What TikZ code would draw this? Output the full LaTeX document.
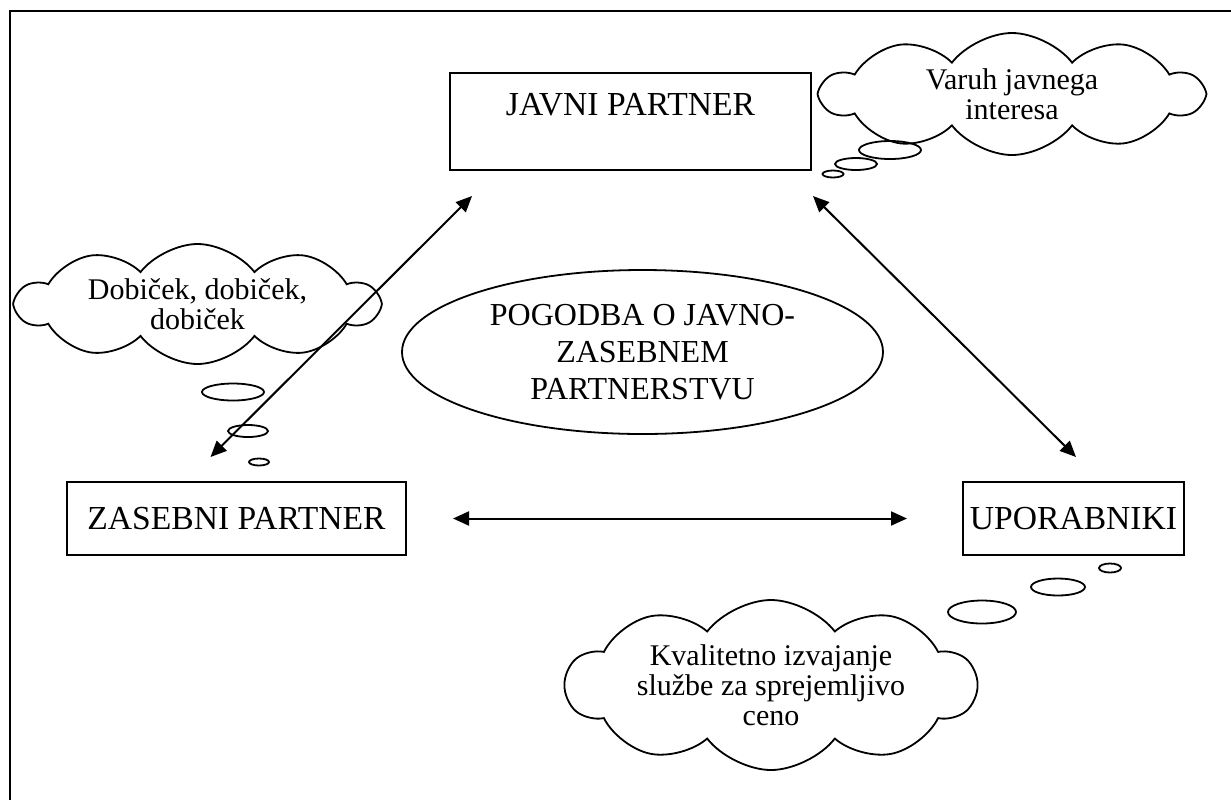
\documentclass[tikz,border=0pt]{standalone}
\usepackage{fontspec}
\setmainfont{Liberation Serif}
\usetikzlibrary{arrows.meta,positioning,shapes.geometric,shapes.symbols}

\begin{document}
\begin{tikzpicture}[x=0.5pt,y=-0.5pt,line width=0.9pt,
   box/.style={draw,rectangle,line width=1pt,inner sep=0pt,font=\fontsize{16.8}{19}\selectfont},
   oval/.style={draw,ellipse,inner sep=0pt},
   thought/.style={draw,cloud,cloud puffs=10,cloud puff arc=105,cloud ignores aspect,inner sep=0pt,
                   align=center,font=\fontsize{15}{15}\selectfont},
   link/.style={line width=1pt,{Triangle[length=8pt,width=7pt]}-{Triangle[length=8pt,width=7pt]}}]
  \clip (0,0) rectangle (1231,799);
  \draw[line width=1.4pt] (10,11) rectangle (1260,830);

  % the three partners
  \node[box,minimum width=180.5pt,text height=21pt,text depth=27.5pt,anchor=base]
       (javni) at (630.5,115) {JAVNI PARTNER};
  \node[box,minimum width=169.5pt,minimum height=36.5pt] (zasebni) at (236.5,518.5) {ZASEBNI PARTNER};
  \node[box,minimum width=110.5pt,minimum height=36.5pt] (upor) at (1073.5,518.5) {UPORABNIKI};

  \node[oval,minimum width=240.5pt,minimum height=82pt,align=center,
        font=\fontsize{16}{18.5}\selectfont] (pogodba) at (642.5,352)
       {POGODBA O JAVNO-\\ZASEBNEM\\PARTNERSTVU};

  % thoughts
  \node[thought,minimum width=180.5pt,minimum height=60pt] (dobicek) at (197.5,304) {Dobiček, dobiček,\\dobiček};
  \node[thought,minimum width=190pt,minimum height=61pt] (varuh) at (1012,94) {Varuh javnega\\interesa};
  \node[thought,minimum width=205pt,minimum height=85pt] (cena) at (771,685)
       {Kvalitetno izvajanje\\službe za sprejemljivo\\ceno};

  \node[oval,minimum width=31pt,minimum height=9pt] (v1) at (890,150) {};
  \node[oval,minimum width=21pt,minimum height=6pt] (v2) at (856,164) {};
  \node[oval,minimum width=10.5pt,minimum height=3.5pt] (v3) at (833,174) {};
  \node[oval,minimum width=31pt,minimum height=8.5pt] (d1) at (233,392) {};
  \node[oval,minimum width=20pt,minimum height=6pt] (d2) at (248,431) {};
  \node[oval,minimum width=10pt,minimum height=3.5pt] (d3) at (259,462) {};
  \node[oval,minimum width=34pt,minimum height=11.5pt] (c1) at (982,612) {};
  \node[oval,minimum width=27pt,minimum height=8.5pt] (c2) at (1058,587) {};
  \node[oval,minimum width=11pt,minimum height=4.5pt] (c3) at (1110,568) {};

  % links
  \draw[link] ([shift={(23,25)}]javni.south west) -- ([shift={(-26,-24)}]zasebni.north);
  \draw[link] ([shift={(1,25)}]javni.south east) -- ([shift={(2.5,-24)}]upor.north);
  \draw[link] ([shift={(46,0)}]zasebni.east) -- ([shift={(-55,0)}]upor.west);
\end{tikzpicture}
\end{document}
